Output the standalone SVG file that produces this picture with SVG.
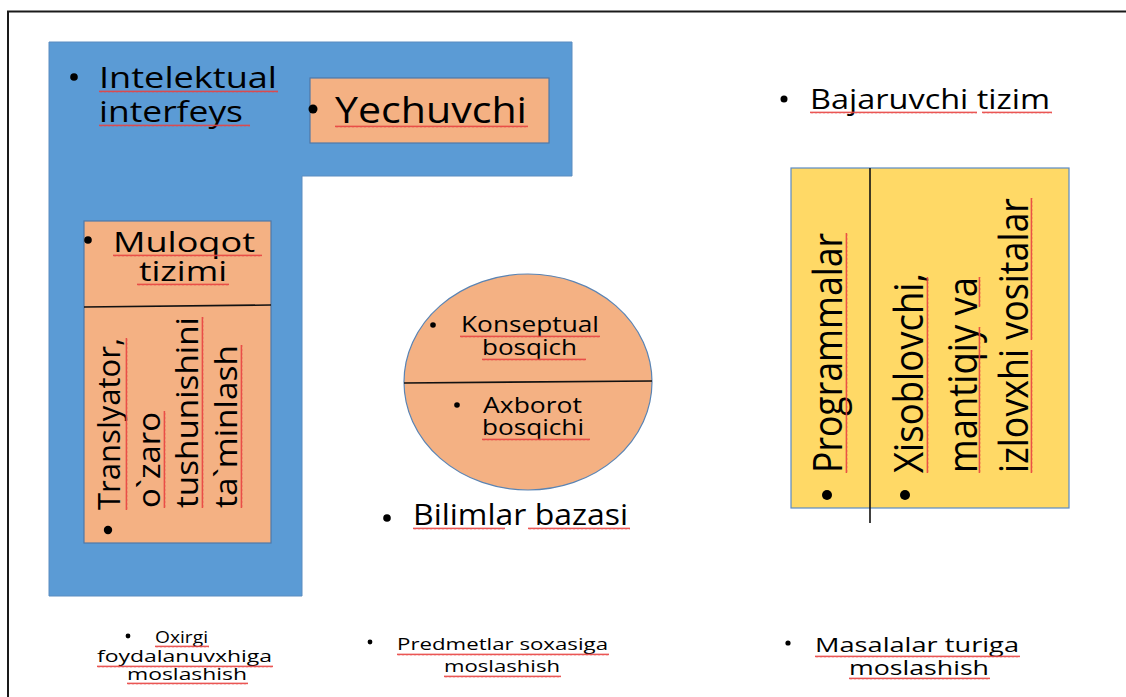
<svg xmlns="http://www.w3.org/2000/svg" width="1126" height="697" viewBox="0 0 1126 697">
<style>
text{font-family:"Open Sans","Noto Sans","DejaVu Sans",sans-serif;fill:#000}
.f30{font-size:30px}
.f28{font-size:28px}
.f36{font-size:36px}
.f31{font-size:31px}
.f40{font-size:40px}
.f21{font-size:21px}
.f27{font-size:27px}
.f17{font-size:17px}
.f20{font-size:20px}
.box{fill:#F4B183;stroke:#4F78A8;stroke-width:1.2}
.div{stroke:#111;stroke-width:1.6;fill:none}
.bul{fill:#000}
</style>
<defs>
<pattern id="wv" width="4" height="3" patternUnits="userSpaceOnUse">
<path d="M0,2.4 L1,0.6 L2,2.4 L3,0.6 L4,2.4" fill="none" stroke="#E8423F" stroke-width="0.9"/>
</pattern>
</defs>
<rect width="1126" height="697" fill="#fff"/>
<path d="M8,697 V11.5 H1126" fill="none" stroke="#1a1a1a" stroke-width="2"/>

<g id="intelektual-interfeys">
<polygon points="49,42 572,42 572,176 302,176 302,596 49,596" fill="#5B9BD5" stroke="#5A8CC0" stroke-width="1"/>
<circle class="bul" cx="74" cy="77" r="3.8"/>
<text class="f30" x="99" y="88" textLength="178" lengthAdjust="spacingAndGlyphs">Intelektual</text>
<text class="f30" x="99" y="122" textLength="144" lengthAdjust="spacingAndGlyphs">interfeys</text>
<rect transform="translate(99,90)" width="179" height="3" fill="url(#wv)"/>
<rect transform="translate(99,124)" width="151" height="3" fill="url(#wv)"/>
</g>

<g id="yechuvchi">
<rect class="box" x="310" y="78" width="239" height="65"/>
<circle class="bul" cx="313" cy="109" r="4.5"/>
<text class="f36" x="335" y="123" textLength="192" lengthAdjust="spacingAndGlyphs">Yechuvchi</text>
<rect transform="translate(335,125)" width="193" height="3" fill="url(#wv)"/>
</g>

<g id="muloqot-tizimi">
<rect class="box" x="84" y="221" width="187" height="322"/>
<path class="div" d="M84,307 L271,305"/>
<circle class="bul" cx="88" cy="240" r="3.8"/>
<text class="f28" x="113" y="252" textLength="142" lengthAdjust="spacingAndGlyphs">Muloqot</text>
<text class="f28" x="139" y="281" textLength="88" lengthAdjust="spacingAndGlyphs">tizimi</text>
<rect transform="translate(113,254)" width="149" height="3" fill="url(#wv)"/>
<rect transform="translate(137,283)" width="92" height="3" fill="url(#wv)"/>
<circle class="bul" cx="108" cy="530" r="4.2"/>
<g transform="rotate(-90)">
<text class="f31" x="-510" y="120" textLength="172" lengthAdjust="spacingAndGlyphs">Translyator,</text>
<text class="f31" x="-508" y="160" textLength="96" lengthAdjust="spacingAndGlyphs">o`zaro</text>
<text class="f31" x="-508" y="198" textLength="191" lengthAdjust="spacingAndGlyphs">tushunishini</text>
<text class="f31" x="-508" y="237" textLength="163" lengthAdjust="spacingAndGlyphs">ta`minlash</text>
<rect transform="translate(-510,125)" width="172" height="3" fill="url(#wv)"/>
<rect transform="translate(-508,163)" width="97" height="3" fill="url(#wv)"/>
<rect transform="translate(-508,201)" width="191" height="3" fill="url(#wv)"/>
<rect transform="translate(-508,240)" width="163" height="3" fill="url(#wv)"/>
</g>
</g>

<g id="bilimlar-bazasi">
<ellipse cx="528" cy="382" rx="124" ry="108" fill="#F4B183" stroke="#5A84B4" stroke-width="1.2"/>
<path class="div" d="M404,383 L652,381"/>
<circle class="bul" cx="433" cy="325" r="2.8"/>
<text class="f21" x="461" y="332" textLength="138" lengthAdjust="spacingAndGlyphs">Konseptual</text>
<text class="f21" x="482" y="355" textLength="95" lengthAdjust="spacingAndGlyphs">bosqich</text>
<rect transform="translate(460,335)" width="140" height="3" fill="url(#wv)"/>
<rect transform="translate(482,358)" width="104" height="3" fill="url(#wv)"/>
<circle class="bul" cx="457" cy="405" r="2.8"/>
<text class="f21" x="483" y="413" textLength="99" lengthAdjust="spacingAndGlyphs">Axborot</text>
<text class="f21" x="482" y="435" textLength="102" lengthAdjust="spacingAndGlyphs">bosqichi</text>
<rect transform="translate(482,438)" width="108" height="3" fill="url(#wv)"/>
<circle class="bul" cx="387" cy="518" r="3.8"/>
<text class="f30" x="413" y="525" textLength="215" lengthAdjust="spacingAndGlyphs">Bilimlar bazasi</text>
<rect transform="translate(413,527)" width="92" height="3" fill="url(#wv)"/>
<rect transform="translate(528,527)" width="102" height="3" fill="url(#wv)"/>
</g>

<g id="bajaruvchi-tizim">
<circle class="bul" cx="784" cy="99" r="3.5"/>
<text class="f27" x="810" y="109" textLength="240" lengthAdjust="spacingAndGlyphs">Bajaruvchi tizim</text>
<rect transform="translate(810,111)" width="167" height="3" fill="url(#wv)"/>
<rect transform="translate(982,111)" width="70" height="3" fill="url(#wv)"/>
<rect x="791" y="168" width="278" height="340" fill="#FFD966" stroke="#5B8BC5" stroke-width="1.2"/>
<path class="div" d="M870,168 V523"/>
<circle class="bul" cx="827" cy="495" r="5"/>
<circle class="bul" cx="905" cy="495" r="5"/>
<g transform="rotate(-90)">
<text class="f40" x="-473" y="842" textLength="240" lengthAdjust="spacingAndGlyphs">Programmalar</text>
<text class="f40" x="-473" y="923" textLength="200" lengthAdjust="spacingAndGlyphs">Xisoblovchi,</text>
<text class="f40" x="-473" y="977" textLength="196" lengthAdjust="spacingAndGlyphs">mantiqiy va</text>
<text class="f40" x="-473" y="1028" textLength="275" lengthAdjust="spacingAndGlyphs">izlovxhi vositalar</text>
<rect transform="translate(-473,845)" width="240" height="3" fill="url(#wv)"/>
<rect transform="translate(-473,926)" width="196" height="3" fill="url(#wv)"/>
<rect transform="translate(-473,978)" width="146" height="3" fill="url(#wv)"/>
<rect transform="translate(-307,978)" width="30" height="3" fill="url(#wv)"/>
<rect transform="translate(-473,1030)" width="123" height="3" fill="url(#wv)"/>
<rect transform="translate(-340,1030)" width="142" height="3" fill="url(#wv)"/>
</g>
</g>

<g id="oxirgi-foydalanuvchi">
<circle class="bul" cx="128" cy="636" r="2.4"/>
<text class="f17" x="155" y="643" textLength="53" lengthAdjust="spacingAndGlyphs">Oxirgi</text>
<text class="f17" x="97" y="662" textLength="175" lengthAdjust="spacingAndGlyphs">foydalanuvxhiga</text>
<text class="f17" x="127" y="680" textLength="120" lengthAdjust="spacingAndGlyphs">moslashish</text>
<rect transform="translate(155,645)" width="54" height="3" fill="url(#wv)"/>
<rect transform="translate(97,665)" width="176" height="3" fill="url(#wv)"/>
<rect transform="translate(127,682)" width="121" height="3" fill="url(#wv)"/>
</g>

<g id="predmetlar-soxasiga">
<circle class="bul" cx="370" cy="642" r="2.4"/>
<text class="f17" x="397" y="650" textLength="211" lengthAdjust="spacingAndGlyphs">Predmetlar soxasiga</text>
<text class="f17" x="444" y="672" textLength="116" lengthAdjust="spacingAndGlyphs">moslashish</text>
<rect transform="translate(397,653)" width="212" height="3" fill="url(#wv)"/>
<rect transform="translate(444,675)" width="117" height="3" fill="url(#wv)"/>
</g>

<g id="masalalar-turiga">
<circle class="bul" cx="788" cy="643" r="2.6"/>
<text class="f20" x="815" y="652" textLength="204" lengthAdjust="spacingAndGlyphs">Masalalar turiga</text>
<text class="f20" x="849" y="675" textLength="140" lengthAdjust="spacingAndGlyphs">moslashish</text>
<rect transform="translate(815,655)" width="205" height="3" fill="url(#wv)"/>
<rect transform="translate(849,677)" width="141" height="3" fill="url(#wv)"/>
</g>

<g id="connectors"></g>
</svg>
